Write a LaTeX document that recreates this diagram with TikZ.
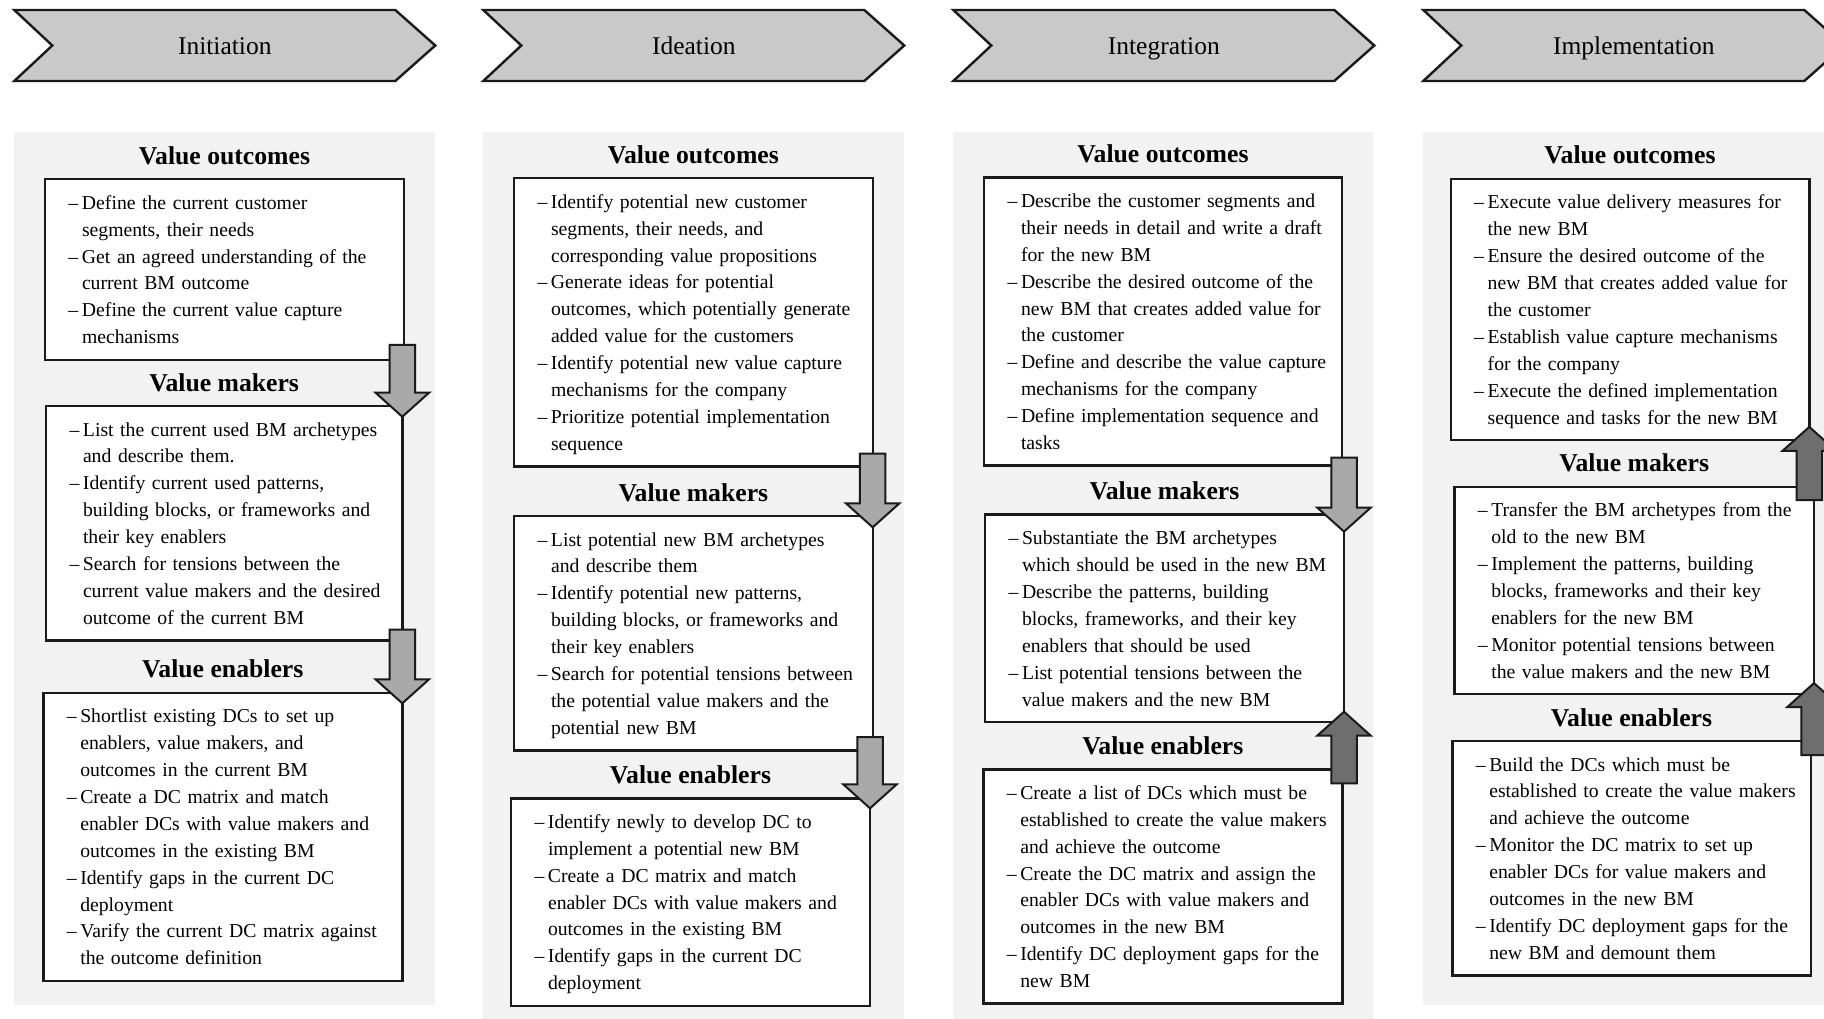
\documentclass[tikz,border=0pt]{standalone}
\usepackage{fontspec}
\setmainfont{Liberation Serif}
\usetikzlibrary{calc}

\definecolor{panelgray}{HTML}{F2F2F2}
\definecolor{chevgray}{HTML}{C9C9C9}
\definecolor{downgray}{HTML}{A9A9A9}
\definecolor{upgray}{HTML}{6E6E6E}
\definecolor{ink}{HTML}{1A1A1A}

% one dashed list item with a hanging indent
\newcommand\li[1]{\par\leftskip=23.5pt\noindent\hangindent=13.5pt\hangafter=1\makebox[13.5pt][l]{–}#1}
\newcommand\firstln{\rule{0pt}{29pt}}
\newcommand\lastln{\rule[-16pt]{0pt}{16pt}\par}
\newcommand\br{\newline}

% process step chevron, #1 = left edge
\newcommand\chevron[1]{\draw[chev] (#1,10) -- ++(381,0) -- ++(40,35.5) -- ++(-40,35.5) -- ++(-381,0) -- ++(38,-35.5) -- cycle;}

% block arrow from tail coordinate #1 to tip coordinate #2, filled with #3
\newcommand\fatarrow[3]{%
  \draw[arrowline, fill=#3] let \p1=(#1), \p2=(#2), \p3=($(#2)!24pt!(#1)$) in
  (\x2-12.75pt,\y1) -- (\x2+12.75pt,\y1) -- (\x2+12.75pt,\y3) -- (\x2+26.75pt,\y3)
  -- (\x2,\y2) -- (\x2-26.75pt,\y3) -- (\x2-12.75pt,\y3) -- cycle;}

\tikzset{
  panel/.style={fill=panelgray},
  chev/.style={draw=ink, line width=2.4pt, fill=chevgray, line join=miter},
  chevlabel/.style={anchor=base, inner sep=0pt, font=\fontsize{25.5pt}{30pt}\selectfont},
  box/.style={draw=ink, line width=2.4pt, fill=white, anchor=north west,
    inner xsep=0pt, inner ysep=0pt, outer sep=0pt, align=left,
    font=\fontsize{19.7pt}{26.9pt}\selectfont},
  head/.style={anchor=base, inner sep=0pt, font=\fontsize{25.7pt}{30pt}\selectfont\bfseries},
  arrowline/.style={draw=ink, line width=2pt, line join=miter},
}

\begin{document}
\begin{tikzpicture}[x=1pt, y=-1pt]
\clip (0,0) rectangle (1824,1019);
\fill[white] (0,0) rectangle (1824,1019);

% column backgrounds
\fill[panel] (14.3,131.7) rectangle (435,1005);
\fill[panel] (483.3,131.7) rectangle (904,1025);
\fill[panel] (953.3,131.7) rectangle (1373.3,1025);
\fill[panel] (1423.3,131.7) rectangle (1844,1005);

% phase chevrons
\chevron{14.3}
\chevron{483.3}
\chevron{953.3}
\chevron{1423.3}
\node[chevlabel] (c1) at (224.8,54.3) {Initiation};
\node[chevlabel] (c2) at (693.8,54.3) {Ideation};
\node[chevlabel] (c3) at (1163.8,54.3) {Integration};
\node[chevlabel] (c4) at (1633.8,54.3) {Implementation};

% ---------- Initiation ----------
\node[box, text width=359pt] (o1) at (45,179.3) {%
\li{\firstln Define the current customer\br segments, their needs}
\li{Get an agreed understanding of the\br current BM outcome}
\li{Define the current value capture\br mechanisms\lastln}};
\node[box, text width=356.3pt] (m1) at (46,406) {%
\li{\firstln List the current used BM archetypes\br and describe them.}
\li{Identify current used patterns,\br building blocks, or frameworks and\br their key enablers}
\li{Search for tensions between the\br current value makers and the desired\br outcome of the current BM\lastln}};
\node[box, text width=359pt] (e1) at (43.3,692.7) {%
\li{\firstln Shortlist existing DCs to set up\br enablers, value makers, and\br outcomes in the current BM}
\li{Create a DC matrix and match\br enabler DCs with value makers and\br outcomes in the existing BM}
\li{Identify gaps in the current DC\br deployment}
\li{Varify the current DC matrix against\br the outcome definition\lastln}};

% ---------- Ideation ----------
\node[box, text width=358.7pt] (o2) at (514,178.3) {%
\li{\firstln Identify potential new customer\br segments, their needs, and\br corresponding value propositions}
\li{Generate ideas for potential\br outcomes, which potentially generate\br added value for the customers}
\li{Identify potential new value capture\br mechanisms for the company}
\li{Prioritize potential implementation\br sequence\lastln}};
\node[box, text width=358.7pt] (m2) at (514,516) {%
\li{\firstln List potential new BM archetypes\br and describe them}
\li{Identify potential new patterns,\br building blocks, or frameworks and\br their key enablers}
\li{Search for potential tensions between\br the potential value makers and the\br potential new BM\lastln}};
\node[box, text width=359pt] (e2) at (511,798.3) {%
\li{\firstln Identify newly to develop DC to\br implement a potential new BM}
\li{Create a DC matrix and match\br enabler DCs with value makers and\br outcomes in the existing BM}
\li{Identify gaps in the current DC\br deployment\lastln}};

% ---------- Integration ----------
\node[box, text width=358pt] (o3) at (984,177.5) {%
\li{\firstln Describe the customer segments and\br their needs in detail and write a draft\br for the new BM}
\li{Describe the desired outcome of the\br new BM that creates added value for\br the customer}
\li{Define and describe the value capture\br mechanisms for the company}
\li{Define implementation sequence and\br tasks\lastln}};
\node[box, text width=359pt] (m3) at (985,514.6) {%
\li{\firstln Substantiate the BM archetypes\br which should be used in the new BM}
\li{Describe the patterns, building\br blocks, frameworks, and their key\br enablers that should be used}
\li{List potential tensions between the\br value makers and the new BM\lastln}};
\node[box, text width=359pt] (e3) at (983.3,769.3) {%
\li{\firstln Create a list of DCs which must be\br established to create the value makers\br and achieve the outcome}
\li{Create the DC matrix and assign the\br enabler DCs with value makers and\br outcomes in the new BM}
\li{Identify DC deployment gaps for the\br new BM\lastln}};

% ---------- Implementation ----------
\node[box, text width=358.6pt] (o4) at (1450.7,179) {%
\li{\firstln Execute value delivery measures for\br the new BM}
\li{Ensure the desired outcome of the\br new BM that creates added value for\br the customer}
\li{Establish value capture mechanisms\br for the company}
\li{Execute the defined implementation\br sequence and tasks for the new BM\lastln}};
\node[box, text width=359.7pt] (m4) at (1454.3,486.7) {%
\li{\firstln Transfer the BM archetypes from the\br old to the new BM}
\li{Implement the patterns, building\br blocks, frameworks and their key\br enablers for the new BM}
\li{Monitor potential tensions between\br the value makers and the new BM\lastln}};
\node[box, text width=358.4pt] (e4) at (1452.3,741) {%
\li{\firstln Build the DCs which must be\br established to create the value makers\br and achieve the outcome}
\li{Monitor the DC matrix to set up\br enabler DCs for value makers and\br outcomes in the new BM}
\li{Identify DC deployment gaps for the\br new BM and demount them\lastln}};

% section headings above each box
\foreach \b/\t in {o1/Value outcomes, m1/Value makers, e1/Value enablers,
                   o2/Value outcomes, m2/Value makers, e2/Value enablers,
                   o3/Value outcomes, m3/Value makers, e3/Value enablers,
                   o4/Value outcomes, m4/Value makers, e4/Value enablers}
  \node[head] (h\b) at ($(\b.north)+(0,15pt)$) {\t};

% arrow end points
\coordinate (a1t) at ($(o1.south east)+(0,15pt)$);
\coordinate (a1h) at ($(m1.north east)+(0,-10.7pt)$);
\coordinate (a2t) at ($(m1.south east)+(0,10.7pt)$);
\coordinate (a2h) at ($(e1.north east)+(0,-10.6pt)$);
\coordinate (a3t) at ($(o2.south east)+(0,12.7pt)$);
\coordinate (a3h) at ($(m2.north east)+(0,-11.3pt)$);
\coordinate (a4t) at ($(m2.south east)+(0,13.3pt)$);
\coordinate (a4h) at ($(e2.north east)+(0,-10pt)$);
\coordinate (a5t) at ($(o3.south east)+(0,8pt)$);
\coordinate (a5h) at ($(m3.north east)+(0,-17pt)$);
\coordinate (a6t) at ($(e3.north east)+(0,-14pt)$);
\coordinate (a6h) at ($(m3.south east)+(0,10.3pt)$);
\coordinate (a7t) at ($(m4.north east)+(0,-13.3pt)$);
\coordinate (a7h) at ($(o4.south east)+(0,13.3pt)$);
\coordinate (a8t) at ($(e4.north east)+(0,-14pt)$);
\coordinate (a8h) at ($(m4.south east)+(0,11pt)$);

% downward flow (light) and upward feedback (dark)
\fatarrow{a1t}{a1h}{downgray}
\fatarrow{a2t}{a2h}{downgray}
\fatarrow{a3t}{a3h}{downgray}
\fatarrow{a4t}{a4h}{downgray}
\fatarrow{a5t}{a5h}{downgray}
\fatarrow{a6t}{a6h}{upgray}
\fatarrow{a7t}{a7h}{upgray}
\fatarrow{a8t}{a8h}{upgray}
\end{tikzpicture}
\end{document}
